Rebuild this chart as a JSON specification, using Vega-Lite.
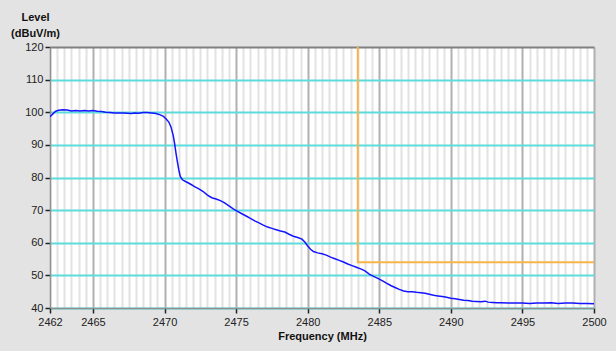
{
  "$schema": "https://vega.github.io/schema/vega-lite/v6.json",
  "width": 544,
  "height": 261,
  "autosize": {"type": "none"},
  "padding": {"left": 50, "top": 47, "right": 22, "bottom": 43},
  "background": "#e3e3e3",
  "config": {
    "view": {"fill": "#ffffff", "stroke": null},
    "font": "Liberation Sans"
  },
  "datasets": {
    "meas": [
      {"f": 2462.0, "v": 98.6}, {"f": 2462.2, "v": 99.5}, {"f": 2462.4, "v": 100.3}, {"f": 2462.6, "v": 100.6},
      {"f": 2462.9, "v": 100.8}, {"f": 2463.2, "v": 100.7}, {"f": 2463.5, "v": 100.4}, {"f": 2463.8, "v": 100.5},
      {"f": 2464.1, "v": 100.4}, {"f": 2464.4, "v": 100.5}, {"f": 2464.7, "v": 100.4}, {"f": 2465.0, "v": 100.5},
      {"f": 2465.3, "v": 100.3}, {"f": 2465.6, "v": 100.2}, {"f": 2465.9, "v": 100.0}, {"f": 2466.2, "v": 99.9},
      {"f": 2466.5, "v": 99.8}, {"f": 2466.8, "v": 99.8}, {"f": 2467.1, "v": 99.8}, {"f": 2467.4, "v": 99.7},
      {"f": 2467.7, "v": 99.6}, {"f": 2467.9, "v": 99.8}, {"f": 2468.2, "v": 99.7}, {"f": 2468.5, "v": 99.9},
      {"f": 2468.8, "v": 99.9}, {"f": 2469.1, "v": 99.8}, {"f": 2469.4, "v": 99.6}, {"f": 2469.7, "v": 99.2},
      {"f": 2469.9, "v": 98.8}, {"f": 2470.1, "v": 98.0}, {"f": 2470.3, "v": 97.0}, {"f": 2470.45, "v": 95.5},
      {"f": 2470.6, "v": 93.0}, {"f": 2470.7, "v": 90.5}, {"f": 2470.8, "v": 87.5}, {"f": 2470.9, "v": 84.8},
      {"f": 2471.0, "v": 82.3}, {"f": 2471.1, "v": 80.3}, {"f": 2471.25, "v": 79.3}, {"f": 2471.5, "v": 78.7},
      {"f": 2471.8, "v": 78.0}, {"f": 2472.1, "v": 77.2}, {"f": 2472.4, "v": 76.5}, {"f": 2472.7, "v": 75.7},
      {"f": 2473.0, "v": 74.6}, {"f": 2473.3, "v": 73.8}, {"f": 2473.6, "v": 73.4}, {"f": 2473.9, "v": 72.9},
      {"f": 2474.2, "v": 72.2}, {"f": 2474.5, "v": 71.3}, {"f": 2474.8, "v": 70.4}, {"f": 2475.1, "v": 69.6},
      {"f": 2475.4, "v": 68.9}, {"f": 2475.7, "v": 68.2}, {"f": 2476.0, "v": 67.5}, {"f": 2476.3, "v": 66.7},
      {"f": 2476.6, "v": 66.1}, {"f": 2476.9, "v": 65.4}, {"f": 2477.2, "v": 64.8}, {"f": 2477.5, "v": 64.4},
      {"f": 2477.8, "v": 64.0}, {"f": 2478.1, "v": 63.6}, {"f": 2478.4, "v": 63.3}, {"f": 2478.7, "v": 62.6},
      {"f": 2479.0, "v": 62.0}, {"f": 2479.3, "v": 61.6}, {"f": 2479.6, "v": 61.1}, {"f": 2479.8, "v": 60.2},
      {"f": 2480.0, "v": 59.0}, {"f": 2480.2, "v": 58.0}, {"f": 2480.4, "v": 57.3}, {"f": 2480.7, "v": 56.9},
      {"f": 2481.0, "v": 56.6}, {"f": 2481.3, "v": 56.2}, {"f": 2481.6, "v": 55.6}, {"f": 2481.9, "v": 55.1},
      {"f": 2482.2, "v": 54.6}, {"f": 2482.5, "v": 54.1}, {"f": 2482.8, "v": 53.5}, {"f": 2483.1, "v": 53.0},
      {"f": 2483.4, "v": 52.5}, {"f": 2483.7, "v": 52.0}, {"f": 2484.0, "v": 51.4}, {"f": 2484.3, "v": 50.4},
      {"f": 2484.6, "v": 49.7}, {"f": 2484.9, "v": 49.1}, {"f": 2485.2, "v": 48.4}, {"f": 2485.5, "v": 47.6},
      {"f": 2485.8, "v": 46.9}, {"f": 2486.1, "v": 46.3}, {"f": 2486.4, "v": 45.7}, {"f": 2486.7, "v": 45.2},
      {"f": 2487.0, "v": 45.0}, {"f": 2487.3, "v": 45.0}, {"f": 2487.6, "v": 44.8}, {"f": 2487.9, "v": 44.7},
      {"f": 2488.2, "v": 44.5}, {"f": 2488.5, "v": 44.2}, {"f": 2488.8, "v": 43.9}, {"f": 2489.1, "v": 43.7},
      {"f": 2489.4, "v": 43.5}, {"f": 2489.7, "v": 43.3}, {"f": 2490.0, "v": 43.0}, {"f": 2490.3, "v": 42.8},
      {"f": 2490.6, "v": 42.6}, {"f": 2490.9, "v": 42.4}, {"f": 2491.2, "v": 42.3}, {"f": 2491.5, "v": 42.1},
      {"f": 2491.8, "v": 42.0}, {"f": 2492.1, "v": 41.9}, {"f": 2492.4, "v": 42.1}, {"f": 2492.6, "v": 41.8},
      {"f": 2492.9, "v": 41.7}, {"f": 2493.2, "v": 41.6}, {"f": 2493.5, "v": 41.6}, {"f": 2494.0, "v": 41.5},
      {"f": 2494.5, "v": 41.5}, {"f": 2495.0, "v": 41.5}, {"f": 2495.5, "v": 41.4}, {"f": 2496.0, "v": 41.5},
      {"f": 2496.5, "v": 41.5}, {"f": 2497.0, "v": 41.6}, {"f": 2497.5, "v": 41.4}, {"f": 2498.0, "v": 41.5},
      {"f": 2498.5, "v": 41.5}, {"f": 2499.0, "v": 41.4}, {"f": 2499.5, "v": 41.4}, {"f": 2500.0, "v": 41.3}
    ],
    "limit": [
      {"i": 0, "f": 2483.5, "v": 120},
      {"i": 1, "f": 2483.5, "v": 54},
      {"i": 2, "f": 2500, "v": 54}
    ]
  },
  "encoding": {
    "x": {
      "field": "f",
      "type": "quantitative",
      "scale": {"domain": [2462, 2500], "nice": false, "zero": false},
      "axis": {
        "title": "Frequency (MHz)",
        "titleFont": "Liberation Sans",
        "titleFontSize": 11,
        "titleFontWeight": "bold",
        "titleColor": "#111111",
        "titlePadding": 3,
        "values": [2462, 2462.5, 2463, 2463.5, 2464, 2464.5, 2465, 2465.5, 2466, 2466.5, 2467, 2467.5, 2468, 2468.5, 2469, 2469.5, 2470, 2470.5, 2471, 2471.5, 2472, 2472.5, 2473, 2473.5, 2474, 2474.5, 2475, 2475.5, 2476, 2476.5, 2477, 2477.5, 2478, 2478.5, 2479, 2479.5, 2480, 2480.5, 2481, 2481.5, 2482, 2482.5, 2483, 2483.5, 2484, 2484.5, 2485, 2485.5, 2486, 2486.5, 2487, 2487.5, 2488, 2488.5, 2489, 2489.5, 2490, 2490.5, 2491, 2491.5, 2492, 2492.5, 2493, 2493.5, 2494, 2494.5, 2495, 2495.5, 2496, 2496.5, 2497, 2497.5, 2498, 2498.5, 2499, 2499.5, 2500],
        "labelExpr": "(datum.value === 2462 || datum.value % 5 === 0) ? format(datum.value, 'd') : ''",
        "labelFont": "Liberation Sans",
        "labelFontSize": 11,
        "labelColor": "#222222",
        "labelPadding": 3,
        "labelOverlap": false,
        "labelFlush": false,
        "tickColor": {"condition": {"test": "datum.value === 2462 || datum.value % 5 === 0", "value": "#222222"}, "value": "transparent"},
        "tickSize": 5,
        "tickWidth": 1.5,
        "domainColor": "#909090",
        "domainWidth": 1.5,
        "grid": true,
        "gridColor": {"condition": {"test": "datum.value % 5 === 0", "value": "#b0b0b0"}, "value": "#e2e2e2"},
        "gridWidth": 2
      }
    },
    "y": {
      "field": "v",
      "type": "quantitative",
      "scale": {"domain": [40, 120], "nice": false, "zero": false},
      "axis": {
        "title": ["Level", "(dBuV/m)"],
        "titleFont": "Liberation Sans",
        "titleFontSize": 11,
        "titleFontWeight": "bold",
        "titleColor": "#111111",
        "titleAngle": 0,
        "titleAlign": "center",
        "titleBaseline": "bottom",
        "titleLineHeight": 16,
        "titleX": -15,
        "titleY": -25,
        "values": [40, 50, 60, 70, 80, 90, 100, 110, 120],
        "labelFont": "Liberation Sans",
        "labelFontSize": 11,
        "labelColor": "#222222",
        "labelPadding": 2,
        "tickColor": "#222222",
        "tickSize": 5,
        "tickWidth": 1.5,
        "domainColor": "#909090",
        "domainWidth": 1.5,
        "grid": true,
        "gridColor": {"condition": {"test": "datum.value === 120", "value": "#808080"}, "value": "#5cdcdc"},
        "gridWidth": 2
      }
    }
  },
  "layer": [
    {
      "data": {"name": "limit"},
      "mark": {"type": "line", "color": "#f5b54a", "strokeWidth": 2, "clip": true},
      "encoding": {"order": {"field": "i", "type": "quantitative"}}
    },
    {
      "data": {"name": "meas"},
      "mark": {"type": "line", "color": "#1414ff", "strokeWidth": 1.5, "clip": true},
      "encoding": {"order": {"field": "f", "type": "quantitative"}}
    }
  ]
}
